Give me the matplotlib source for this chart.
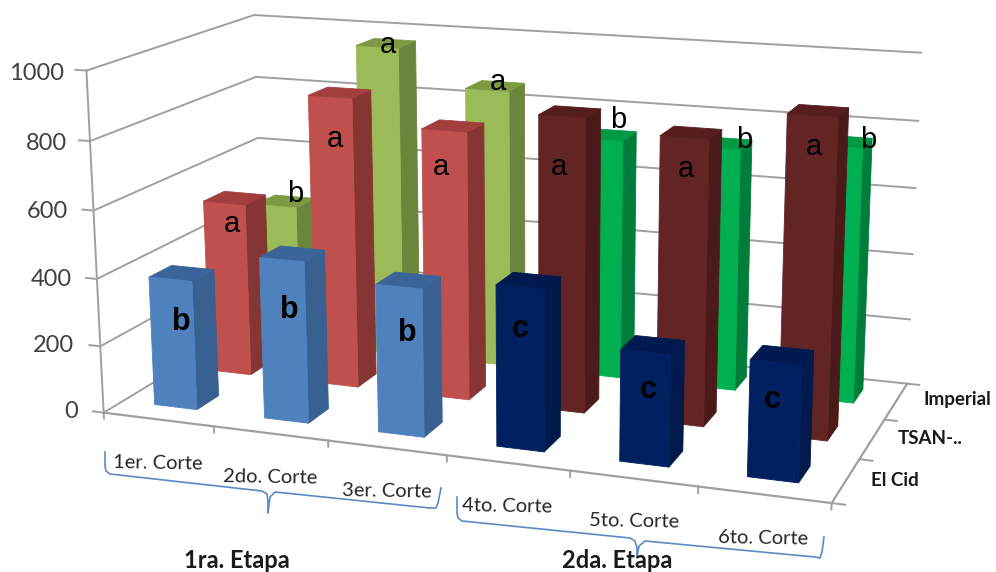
import matplotlib
matplotlib.use('Agg')
import matplotlib.pyplot as plt

cortes = ['1er. Corte', '2do. Corte', '3er. Corte', '4to. Corte', '5to. Corte', '6to. Corte']
variedades = ['El Cid', 'TSAN-..', 'Imperial']
z_ticks = [0, 200, 400, 600, 800, 1000]

el_cid = [385, 475, 430, 462, 316, 325]
tsan = [530, 875, 800, 865, 830, 915]
imperial = [440, 965, 855, 730, 730, 760]
series = [el_cid, tsan, imperial]

letras_el_cid = ['b', 'b', 'b', 'c', 'c', 'c']
letras_tsan = ['a', 'a', 'a', 'a', 'a', 'a']
letras_imperial = ['b', 'a', 'a', 'b', 'b', 'b']

# (front, top, side) per variety; the second stage uses darker colours
colores_etapa1 = [('#4f81bd', '#3b659a', '#386090'),
                  ('#c0504d', '#a23f3d', '#853634'),
                  ('#9bbb59', '#7d9a43', '#6c853d')]
colores_etapa2 = [('#002060', '#001a50', '#001a4d'),
                  ('#632523', '#551e1c', '#4b1b19'),
                  ('#00b050', '#009a45', '#007d3a')]

ANCHO = 0.39
FONDO = 0.39
GRIS = '#a0a0a0'

fig = plt.figure(figsize=(9.96, 5.72), dpi=100)
ax = fig.add_axes([66.65 / 996, -106.15 / 572, 867.1 / 996, 867.1 / 572],
                  projection='3d', computed_zorder=False)
ax.set_axis_off()
ax.patch.set_visible(False)

orden = 10
for fila in [2, 1, 0]:
    for i in range(6):
        paleta = colores_etapa1 if i < 3 else colores_etapa2
        frente, tapa, lado = paleta[fila][0], paleta[fila][1], paleta[fila][2]
        nada = (0, 0, 0, 0)
        # face order in bar3d: bottom, top, front, back, left, right
        caras = [nada, tapa, frente, nada, nada, lado]
        ax.bar3d(i + 0.485 - ANCHO / 2, fila + 0.33, 0, ANCHO, FONDO, series[fila][i],
                 color=caras, edgecolor=caras, linewidth=0.6, shade=False, zorder=orden)
        orden += 1

ax.set_xlim(0, 6, view_margin=0)
ax.set_ylim(0, 3, view_margin=0)
ax.set_zlim(0, 1000, view_margin=0)
ax.set_box_aspect((1, 0.4888, 0.4697))
ax.view_init(14.418, -69.815, 0.189)
ax.set_proj_type('persp', focal_length=0.4865)

# walls and floor edges
for z in z_ticks:
    ax.plot([0, 0, 6], [0, 3, 3], [z, z, z], color=GRIS, lw=1.4, zorder=1)
    ax.plot([0, -0.1], [0, 0], [z, z], color=GRIS, lw=1.4, zorder=2)
ax.plot([0, 0], [0, 0], [0, 1000], color=GRIS, lw=1.4, zorder=2)
ax.plot([0, 6, 6], [0, 0, 3], [0, 0, 0], color=GRIS, lw=1.6, zorder=2)
for i in range(7):
    ax.plot([i, i], [0, 0], [0, -18], color=GRIS, lw=1.4, zorder=2)
for j in range(4):
    ax.plot([6, 6.1], [j, j], [0, 0], color=GRIS, lw=1.4, zorder=2)

# annotation layer in picture pixels
capa = fig.add_axes([0, 0, 1, 1])
capa.set_xlim(0, 996)
capa.set_ylim(572, 0)
capa.axis('off')
capa.patch.set_visible(False)

pos_z = [(78, 412), (74, 346), (72, 279), (68, 211), (67, 143), (64, 73)]
for z, (px, py) in zip(z_ticks, pos_z):
    capa.text(px, py, str(z), ha='right', va='center', fontsize=17, family='Lato', color='#404040')

pos_cortes = [(158, 463), (270, 477), (387, 491), (507, 506), (634, 521), (763, 538)]
for nombre, (px, py) in zip(cortes, pos_cortes):
    capa.text(px, py, nombre, ha='center', va='center', fontsize=14.5, family='Lato', color='#262626', rotation=-1)

pos_variedad = [(895, 480), (930, 438), (957, 400)]
for nombre, (px, py) in zip(variedades, pos_variedad):
    capa.text(px, py, nombre, ha='center', va='center', fontsize=13.5, family='Lato', weight='bold', color='#1a1a1a')

capa.text(237, 560, '1ra. Etapa', ha='center', va='center', fontsize=17, family='Lato', weight='bold', color='#1a1a1a')
capa.text(617, 560, '2da. Etapa', ha='center', va='center', fontsize=17, family='Lato', weight='bold', color='#1a1a1a')

pos_letras_el_cid = [(181, 322), (289, 310), (407, 333), (520, 329), (648, 390), (772, 400)]
pos_letras_tsan = [(232, 224), (335, 139), (441, 167), (559, 167), (686, 169), (814, 147)]
pos_letras_imperial = [(295, 194), (388, 45), (498, 82), (618, 120), (744, 140), (868, 140)]
for letra, (px, py) in zip(letras_el_cid, pos_letras_el_cid):
    capa.text(px, py, letra, ha='center', va='center', fontsize=22, family='Liberation Sans', weight='bold', color='black')
for letra, (px, py) in zip(letras_tsan + letras_imperial, pos_letras_tsan + pos_letras_imperial):
    capa.text(px, py, letra, ha='center', va='center', fontsize=21, family='Liberation Sans', color='black')

# curly brackets grouping the cuts of each stage
llave1_x = [105, 105, 106, 110, 262, 267, 268, 268, 270, 275, 430, 436, 438, 441]
llave1_y = [452, 466, 471, 474, 491, 494, 502, 513, 497, 492, 508, 508, 503, 488]
llave2_x = [457, 457, 458, 462, 630, 635, 637, 637, 639, 645, 815, 820, 822, 824]
llave2_y = [497, 513, 518, 521, 538, 541, 548, 557, 546, 541, 557, 558, 552, 537]
capa.plot(llave1_x, llave1_y, color='#5b8bc4', lw=1.2)
capa.plot(llave2_x, llave2_y, color='#5b8bc4', lw=1.2)

fig.savefig('out.png', dpi=100)
